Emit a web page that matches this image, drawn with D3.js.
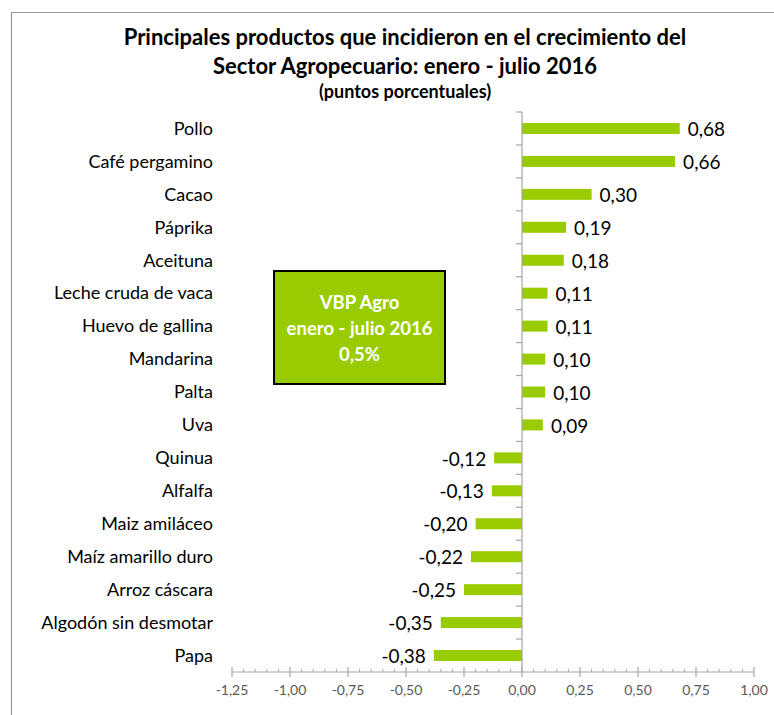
<!DOCTYPE html>
<html>
<head>
<meta charset="utf-8">
<script src="https://cdn.jsdelivr.net/npm/d3@7"></script>
<style>
  body { margin: 0; background: #fff; }
  svg { display: block; font-family: Lato, "Open Sans", sans-serif; }
</style>
</head>
<body>
<div id="chart"></div>
<script>
// data
const categories = ["Pollo", "Café pergamino", "Cacao", "Páprika", "Aceituna",
  "Leche cruda de vaca", "Huevo de gallina", "Mandarina", "Palta", "Uva",
  "Quinua", "Alfalfa", "Maiz amiláceo", "Maíz amarillo duro", "Arroz cáscara",
  "Algodón sin desmotar", "Papa"];
const values = [0.68, 0.66, 0.30, 0.19, 0.18, 0.11, 0.11, 0.10, 0.10, 0.09,
  -0.12, -0.13, -0.20, -0.22, -0.25, -0.35, -0.38];
const xTicks = [-1.25, -1.00, -0.75, -0.50, -0.25, 0.00, 0.25, 0.50, 0.75, 1.00];
const titleLines = ["Principales productos que incidieron en el crecimiento del",
  "Sector Agropecuario: enero - julio 2016"];
const subtitle = "(puntos porcentuales)";
const boxLines = ["VBP Agro", "enero - julio 2016", "0,5%"];

const width = 774, height = 715;
const green = "#99CC00", axisGray = "#A6A6A6";

const svg = d3.select("#chart").append("svg")
    .attr("width", width)
    .attr("height", height);

svg.append("rect").attr("width", width).attr("height", height).attr("fill", "#fff");

// outer frame (only left and top edges are visible)
svg.append("path")
    .attr("d", "M11.5,715V12.5H774")
    .attr("fill", "none")
    .attr("stroke", "#979797")
    .attr("stroke-width", 1.2);

// titles
svg.selectAll("text.title")
    .data(titleLines)
    .enter().append("text")
    .attr("class", "title")
    .attr("x", 405)
    .attr("y", (d, i) => 45 + i * 29)
    .attr("text-anchor", "middle")
    .attr("font-size", 22)
    .attr("font-weight", "bold")
    .attr("fill", "#000")
    .text(d => d);

svg.append("text")
    .attr("x", 405)
    .attr("y", 98)
    .attr("text-anchor", "middle")
    .attr("font-size", 18)
    .attr("font-weight", "bold")
    .text(subtitle);

// scales
const x = d3.scaleLinear().domain([-1.25, 1]).range([232, 754]);
const y = d3.scaleBand().domain(categories).range([112, 672]).padding(0);
const barH = 11;

// bars
svg.selectAll("rect.bar")
    .data(values)
    .enter().append("rect")
    .attr("class", "bar")
    .attr("x", d => x(Math.min(0, d)))
    .attr("y", (d, i) => y(categories[i]) + y.bandwidth() / 2 - barH / 2)
    .attr("width", d => Math.abs(x(d) - x(0)))
    .attr("height", barH)
    .attr("fill", green);

// vertical (category) axis at zero
const yAxis = svg.append("g");
yAxis.append("line")
    .attr("x1", x(0)).attr("x2", x(0))
    .attr("y1", 112).attr("y2", 672)
    .attr("stroke", axisGray).attr("stroke-width", 1.2);
yAxis.selectAll("line.ytick")
    .data(categories)
    .enter().append("line")
    .attr("class", "ytick")
    .attr("x1", x(0) - 6).attr("x2", x(0))
    .attr("y1", d => y(d)).attr("y2", d => y(d))
    .attr("stroke", axisGray).attr("stroke-width", 1.2);

// category labels
svg.selectAll("text.cat")
    .data(categories)
    .enter().append("text")
    .attr("class", "cat")
    .attr("x", 213)
    .attr("y", d => y(d) + y.bandwidth() / 2)
    .attr("dy", "0.35em")
    .attr("text-anchor", "end")
    .attr("font-size", 18)
    .attr("fill", "#000")
    .text(d => d);

// value labels
const fmt = v => d3.format(".2f")(v).replace(".", ",").replace("−", "-");
svg.selectAll("text.val")
    .data(values)
    .enter().append("text")
    .attr("class", "val")
    .attr("x", d => d >= 0 ? x(d) + 8 : x(d) - 8)
    .attr("y", (d, i) => y(categories[i]) + y.bandwidth() / 2 + 1)
    .attr("dy", "0.35em")
    .attr("text-anchor", d => d >= 0 ? "start" : "end")
    .attr("font-size", 19)
    .attr("fill", "#000")
    .text(fmt);

// horizontal value axis
const xAxisG = svg.append("g").attr("transform", "translate(0,672)");
xAxisG.append("line")
    .attr("x1", x(-1.25)).attr("x2", x(1))
    .attr("stroke", axisGray).attr("stroke-width", 1.2);
const minorTicks = d3.range(-1.25, 1.0001, 0.05).filter(v => !xTicks.some(t => Math.abs(t - v) < 1e-6));
xAxisG.selectAll("line.minor")
    .data(minorTicks)
    .enter().append("line")
    .attr("class", "minor")
    .attr("x1", d => x(d)).attr("x2", d => x(d))
    .attr("y1", -3).attr("y2", 0)
    .attr("stroke", axisGray);
xAxisG.selectAll("line.major")
    .data(xTicks)
    .enter().append("line")
    .attr("class", "major")
    .attr("x1", d => x(d)).attr("x2", d => x(d))
    .attr("y1", -5).attr("y2", 5)
    .attr("stroke", axisGray).attr("stroke-width", 1.2);
xAxisG.selectAll("text")
    .data(xTicks)
    .enter().append("text")
    .attr("x", d => x(d))
    .attr("y", 23)
    .attr("text-anchor", "middle")
    .attr("font-size", 14)
    .attr("fill", "#595959")
    .text(fmt);

// annotation box
const box = svg.append("g");
box.append("rect")
    .attr("x", 274).attr("y", 271)
    .attr("width", 171).attr("height", 113)
    .attr("fill", green)
    .attr("stroke", "#000")
    .attr("stroke-width", 2);
box.selectAll("text")
    .data(boxLines)
    .enter().append("text")
    .attr("x", 359.5)
    .attr("y", (d, i) => 303 + i * 26)
    .attr("dy", "0.35em")
    .attr("text-anchor", "middle")
    .attr("font-size", 18.5)
    .attr("font-weight", "bold")
    .attr("fill", "#fff")
    .text(d => d);
</script>
</body>
</html>
